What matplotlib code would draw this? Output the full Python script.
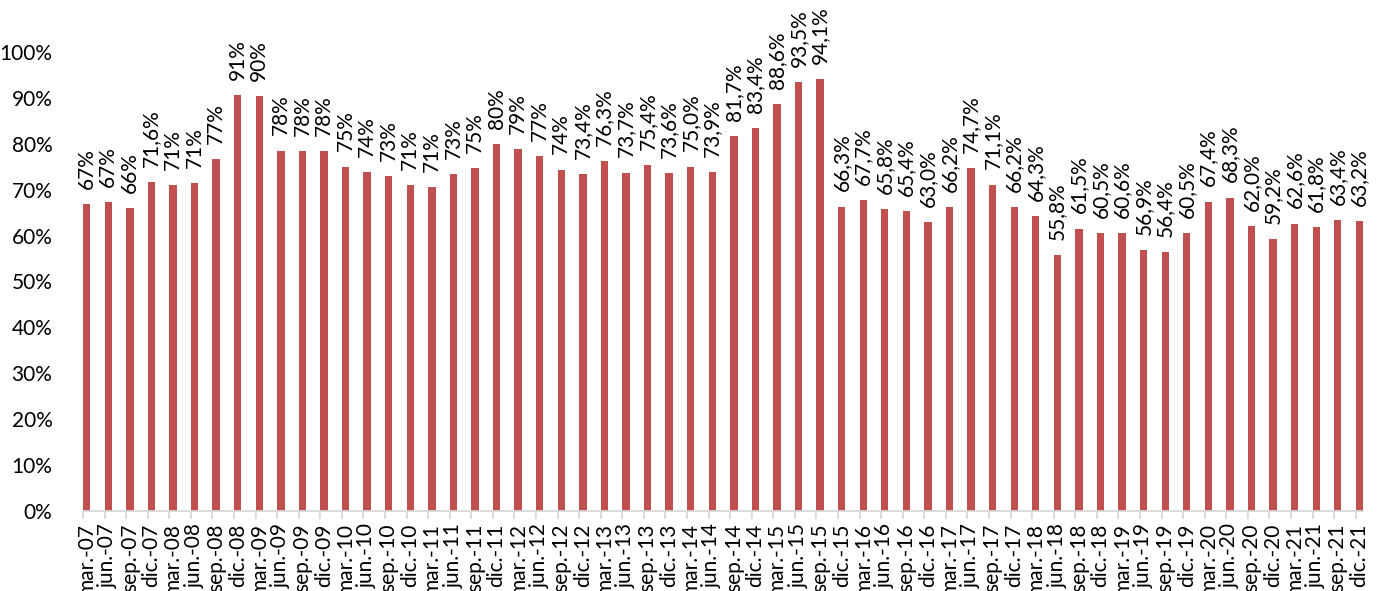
import matplotlib
matplotlib.use("Agg")
import matplotlib.pyplot as plt
from matplotlib.ticker import PercentFormatter

plt.rcParams["font.family"] = ["Lato", "DejaVu Sans"]

# quarterly periods, mar.-07 .. dic.-21
months = ["mar.", "jun.", "sep.", "dic."]
years = ["07", "08", "09", "10", "11", "12", "13", "14", "15",
         "16", "17", "18", "19", "20", "21"]
periods = [f"{m}-{y}" for y in years for m in months]

# bar heights (fraction)
values = [
    0.669, 0.673, 0.660, 0.716,
    0.710, 0.715, 0.766, 0.906,
    0.904, 0.785, 0.784, 0.784,
    0.750, 0.739, 0.730, 0.710,
    0.705, 0.734, 0.747, 0.800,
    0.789, 0.773, 0.744, 0.734,
    0.763, 0.737, 0.754, 0.736,
    0.750, 0.739, 0.817, 0.834,
    0.886, 0.935, 0.941, 0.663,
    0.677, 0.658, 0.654, 0.630,
    0.662, 0.747, 0.711, 0.662,
    0.643, 0.558, 0.615, 0.605,
    0.606, 0.569, 0.564, 0.605,
    0.674, 0.683, 0.620, 0.592,
    0.626, 0.618, 0.634, 0.632,
]

# data labels as printed on the chart
labels = [
    "67%", "67%", "66%", "71,6%",
    "71%", "71%", "77%", "91%",
    "90%", "78%", "78%", "78%",
    "75%", "74%", "73%", "71%",
    "71%", "73%", "75%", "80%",
    "79%", "77%", "74%", "73,4%",
    "76,3%", "73,7%", "75,4%", "73,6%",
    "75,0%", "73,9%", "81,7%", "83,4%",
    "88,6%", "93,5%", "94,1%", "66,3%",
    "67,7%", "65,8%", "65,4%", "63,0%",
    "66,2%", "74,7%", "71,1%", "66,2%",
    "64,3%", "55,8%", "61,5%", "60,5%",
    "60,6%", "56,9%", "56,4%", "60,5%",
    "67,4%", "68,3%", "62,0%", "59,2%",
    "62,6%", "61,8%", "63,4%", "63,2%",
]

bar_color = "#C0504D"
axis_grey = "#D9D9D9"
width = 0.343

fig = plt.figure(figsize=(13.81, 5.91), dpi=100)
ax = fig.add_axes([0.0601, 0.1354, 0.9269, 0.7766])

x = list(range(len(periods)))
bars = ax.bar(x, values, width=width, align="edge", color=bar_color)

for xi, v, lab in zip(x, values, labels):
    ax.annotate(lab, (xi + width / 2, v), xytext=(0, 11),
                textcoords="offset points", rotation=90,
                ha="center", va="bottom", fontsize=15, color="#000000",
                annotation_clip=False)

ax.set_xlim(0, len(periods) - 1 + width)
ax.set_ylim(0, 1)

# tick marks at bar edges, labels centred on bars
ax.set_xticks(x)
ax.set_xticklabels([])
ax.set_xticks([xi + width / 2 for xi in x], minor=True)
ax.set_xticklabels(periods, minor=True, rotation=90, fontsize=15)
ax.tick_params(axis="x", which="major", length=6, color=axis_grey, width=1.3)
ax.tick_params(axis="x", which="minor", length=0, pad=9)

ax.set_yticks([i / 10 for i in range(11)])
ax.yaxis.set_major_formatter(PercentFormatter(1.0, decimals=0))
ax.tick_params(axis="y", length=0, pad=22, labelsize=15)

for side in ["left", "right", "top"]:
    ax.spines[side].set_visible(False)
ax.spines["bottom"].set_color(axis_grey)
ax.spines["bottom"].set_linewidth(1.3)

fig.savefig("out.png", dpi=100, facecolor="white")
